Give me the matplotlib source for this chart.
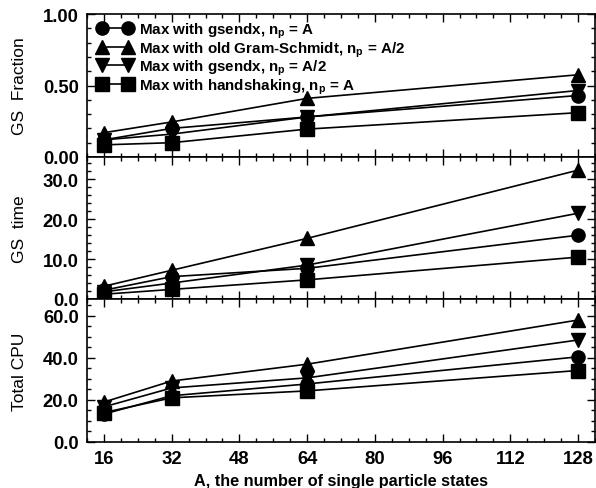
import matplotlib
matplotlib.use("Agg")
import matplotlib.pyplot as plt
from matplotlib.ticker import MultipleLocator, FormatStrFormatter

plt.rcParams['font.family'] = ['Liberation Sans', 'DejaVu Sans']
plt.rcParams['font.weight'] = 'bold'
plt.rcParams['mathtext.fontset'] = 'custom'
plt.rcParams['mathtext.rm'] = 'Liberation Sans:bold'
plt.rcParams['mathtext.bf'] = 'Liberation Sans:bold'

A = [16, 32, 64, 128]

labels = [
    r"Max with gsendx, n$_\mathbf{p}$ = A",
    r"Max with old Gram-Schmidt, n$_\mathbf{p}$ = A/2",
    r"Max with gsendx, n$_\mathbf{p}$ = A/2",
    r"Max with handshaking, n$_\mathbf{p}$ = A",
]
markers = ['o', '^', 'v', 's']

gs_fraction = [
    [0.12, 0.20, 0.28, 0.43],
    [0.17, 0.245, 0.41, 0.575],
    [0.12, 0.16, 0.28, 0.465],
    [0.085, 0.10, 0.195, 0.31],
]
gs_time = [
    [2.2, 5.6, 7.7, 16.0],
    [3.2, 7.2, 15.2, 32.3],
    [1.8, 4.0, 8.5, 21.5],
    [1.2, 2.4, 4.8, 10.5],
]
total_cpu = [
    [13.3, 22.0, 27.6, 40.5],
    [19.0, 29.0, 37.0, 58.0],
    [16.7, 25.7, 30.5, 48.5],
    [14.0, 21.0, 24.3, 34.0],
]

panels = [
    ("GS  Fraction", gs_fraction, (0, 1.0), 0.5, 0.1, "%.2f"),
    ("GS  time", gs_time, (0, 35.6), 10, 2, "%.1f"),
    ("Total CPU", total_cpu, (0, 68), 20, 5, "%.1f"),
]

W, H = 596, 489
fig = plt.figure(figsize=(W / 100, H / 100), dpi=100)
left = 87 / W
width = 595 / W - left
bounds = [(15, 158), (158, 300), (300, 443)]

axes = []
for i, (ylabel, data, ylim, maj, mnr, fmt) in enumerate(panels):
    top_px, bot_px = bounds[i]
    ax = fig.add_axes([left, 1 - bot_px / H, width, (bot_px - top_px) / H])
    for series, m, lab in zip(data, markers, labels):
        ax.plot(A, series, color='black', lw=1.2, marker=m, markersize=9.5,
                label=lab, clip_on=False, zorder=3)
    ax.set_xlim(12, 132)
    ax.set_ylim(*ylim)
    ax.xaxis.set_major_locator(MultipleLocator(16))
    ax.xaxis.set_minor_locator(MultipleLocator(4))
    ax.yaxis.set_major_locator(MultipleLocator(maj))
    ax.yaxis.set_minor_locator(MultipleLocator(mnr))
    ax.yaxis.set_major_formatter(FormatStrFormatter(fmt))
    ax.tick_params(which='both', direction='in', top=True, right=True,
                   labelsize=13.3, width=1.0)
    ax.tick_params(which='major', length=6, pad=6)
    ax.tick_params(which='minor', length=3)
    for s in ax.spines.values():
        s.set_linewidth(1.2)
    ax.set_ylabel(ylabel, fontsize=12.5, fontweight='normal')
    ax.yaxis.set_label_coords(-0.118, 0.5)
    if i < 2:
        ax.tick_params(labelbottom=False)
    axes.append(ax)

axes[0].legend(loc='upper left', frameon=False, numpoints=2, fontsize=10.9,
               handlelength=2.3, handletextpad=0.45, labelspacing=-0.06,
               borderpad=0.42, borderaxespad=0.0,
               bbox_to_anchor=(4 / 508, 1.0))
axes[2].set_xlabel("A, the number of single particle states", fontsize=11.7,
                   fontweight='bold', labelpad=4)

fig.savefig("out.png", dpi=100)
